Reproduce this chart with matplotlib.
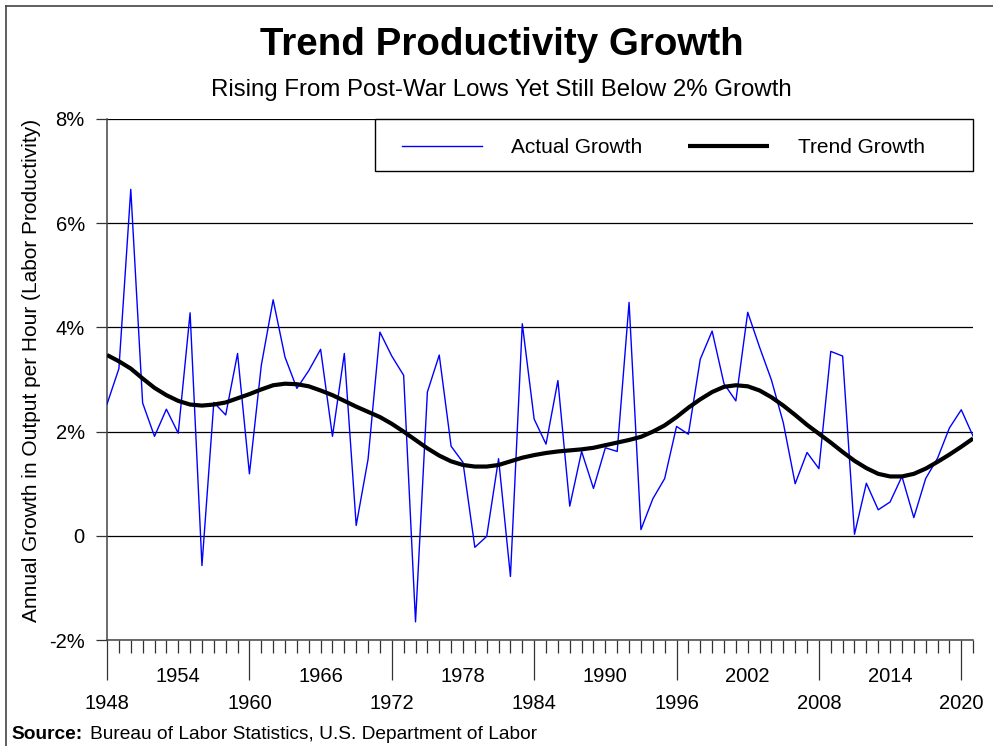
import numpy as np
import matplotlib
matplotlib.use("Agg")
import matplotlib.pyplot as plt
import matplotlib.ticker as mt
from matplotlib.lines import Line2D
from matplotlib.patches import Rectangle

# annual data, 1948-2021 (percent)
years = list(range(1948, 2022))
actual = [2.53, 3.21, 6.65, 2.55, 1.91, 2.43, 1.97, 4.28, -0.57, 2.56,
          2.32, 3.50, 1.19, 3.27, 4.53, 3.43, 2.83, 3.17, 3.58, 1.91,
          3.50, 0.20, 1.47, 3.91, 3.45, 3.08, -1.65, 2.76, 3.47, 1.72,
          1.41, -0.22, -0.01, 1.48, -0.78, 4.07, 2.24, 1.76, 2.98, 0.57,
          1.62, 0.91, 1.69, 1.62, 4.48, 0.12, 0.71, 1.10, 2.10, 1.95,
          3.39, 3.93, 2.92, 2.59, 4.29, 3.62, 2.99, 2.17, 1.00, 1.60,
          1.29, 3.54, 3.45, 0.03, 1.01, 0.50, 0.65, 1.14, 0.35, 1.10,
          1.49, 2.07, 2.42, 1.91]
trend = [3.47, 3.35, 3.21, 3.02, 2.84, 2.70, 2.59, 2.52, 2.50, 2.52,
         2.56, 2.64, 2.72, 2.81, 2.89, 2.92, 2.91, 2.87, 2.79, 2.70,
         2.59, 2.48, 2.38, 2.28, 2.15, 2.00, 1.84, 1.68, 1.54, 1.43,
         1.36, 1.33, 1.33, 1.36, 1.43, 1.50, 1.55, 1.59, 1.62, 1.64,
         1.66, 1.69, 1.74, 1.79, 1.84, 1.90, 2.00, 2.12, 2.28, 2.46,
         2.62, 2.76, 2.86, 2.89, 2.87, 2.79, 2.66, 2.50, 2.32, 2.13,
         1.96, 1.79, 1.61, 1.44, 1.30, 1.19, 1.14, 1.14, 1.19, 1.29,
         1.42, 1.56, 1.71, 1.87]
y_ticks = [-2, 0, 2, 4, 6, 8]
lower_row_years = list(range(1948, 2021, 12))   # 1948, 1960, ... 2020
upper_row_years = list(range(1954, 2021, 12))   # 1954, 1966, ... 2014

plt.rcParams.update({
    "font.family": ["Liberation Sans", "DejaVu Sans"],
    "font.size": 14,
})

fig = plt.figure(figsize=(9.93, 7.46), dpi=100)
ax = fig.add_axes([0.1078, 0.142, 0.8722, 0.6985])

ax.plot(years, actual, color="#0000ff", lw=1.0, label="Actual Growth", zorder=3)
ax.plot(years, trend, color="black", lw=3.0, label="Trend Growth", zorder=4,
        solid_capstyle="butt")

ax.set_xlim(1948, 2021)
ax.set_ylim(-2, 8)
ax.set_yticks(y_ticks)
ax.yaxis.set_major_formatter(mt.FuncFormatter(
    lambda v, _: "0" if v == 0 else f"{v:.0f}%"))
ax.grid(axis="y", color="black", lw=0.9)
ax.set_axisbelow(True)

# two rows of year labels: long ticks with the lower row, short yearly ticks
ax.set_xticks(lower_row_years)
ax.xaxis.set_major_formatter(mt.FuncFormatter(lambda v, _: f"{v:.0f}"))
ax.set_xticks(years, minor=True)
ax.xaxis.set_minor_formatter(mt.FuncFormatter(
    lambda v, _: f"{v:.0f}" if int(round(v)) in upper_row_years else ""))
ax.tick_params(axis="x", which="major", length=29, width=0.9, pad=10,
               labelsize=14.5, color="#333333")
ax.tick_params(axis="x", which="minor", length=9.5, width=0.9, pad=10,
               labelsize=14.5, color="#333333")
ax.tick_params(axis="y", length=8, width=0.9, pad=8, labelsize=14.5,
               color="#333333")

for s in ("top", "right"):
    ax.spines[s].set_visible(False)
for s in ("left", "bottom"):
    ax.spines[s].set_color("#444444")
    ax.spines[s].set_linewidth(1.1)

ax.set_ylabel("Annual Growth in Output per Hour (Labor Productivity)",
              fontsize=15)
ax.yaxis.set_label_coords(-0.0765, 0.518)

# legend box drawn separately so it spans the same width as the original
ax.add_patch(Rectangle((0.3095, 0.9002), 0.6905, 0.0998, transform=ax.transAxes,
                       facecolor="white", edgecolor="black", lw=1.0,
                       zorder=5, clip_on=False))
leg = ax.legend(ncol=2, loc="center left", bbox_to_anchor=(0.3406, 0.9445),
                borderaxespad=0, borderpad=0, frameon=False, fontsize=15,
                handlelength=3.85, handletextpad=1.4, columnspacing=2.2)
leg.set_zorder(6)

fig.text(0.505, 0.940, "Trend Productivity Growth", ha="center", va="center",
         fontsize=27.7, fontweight="bold")
fig.text(0.505, 0.879, "Rising From Post-War Lows Yet Still Below 2% Growth",
         ha="center", va="center", fontsize=17.3)
fig.text(0.012, 0.015, "Source:", ha="left", va="center", fontsize=13.8,
         fontweight="bold")
fig.text(0.0906, 0.015, "Bureau of Labor Statistics, U.S. Department of Labor",
         ha="left", va="center", fontsize=13.8)

# outer frame (left and top edges)
fig.add_artist(Line2D([0.006, 0.006], [0, 0.992], transform=fig.transFigure,
                      color="#444444", lw=1.2))
fig.add_artist(Line2D([0.006, 1.0], [0.992, 0.992], transform=fig.transFigure,
                      color="#444444", lw=1.2))

fig.savefig("out.png", dpi=100)
